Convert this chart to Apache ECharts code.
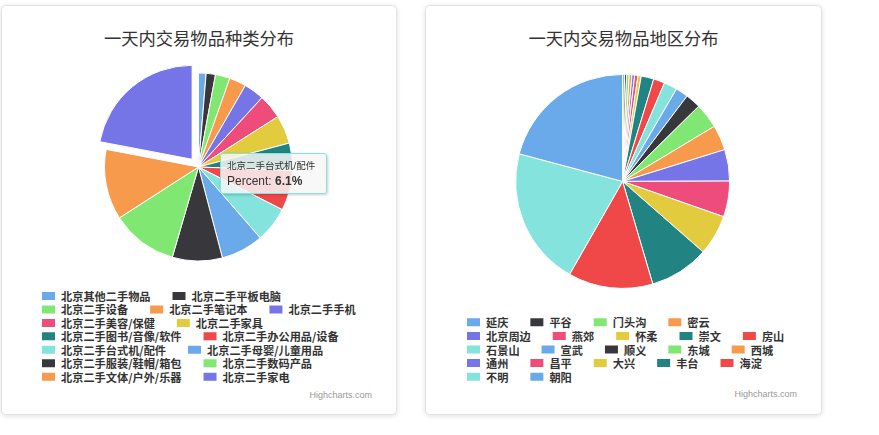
<!DOCTYPE html>
<html>
<head>
<meta charset="utf-8">
<script src="https://cdn.jsdelivr.net/npm/echarts@6/dist/echarts.min.js"></script>
<style>
  html, body { margin: 0; padding: 0; background: #ffffff; }
  #chart { width: 879px; height: 435px; }
</style>
</head>
<body>
<div id="chart"></div>
<script>
// ---- data ----
const categoryTitle = '一天内交易物品种类分布';
const districtTitle = '一天内交易物品地区分布';
const creditText = 'Highcharts.com';

const categoryNames = [
  '北京其他二手物品', '北京二手平板电脑', '北京二手设备', '北京二手笔记本', '北京二手手机',
  '北京二手美容/保健', '北京二手家具', '北京二手图书/音像/软件', '北京二手办公用品/设备',
  '北京二手台式机/配件', '北京二手母婴/儿童用品', '北京二手服装/鞋帽/箱包', '北京二手数码产品',
  '北京二手文体/户外/乐器', '北京二手家电'
];
const categoryPercents = [1.3, 1.6, 2.5, 2.9, 3.5, 4.2, 4.9, 4.7, 6.9, 6.1, 7.3, 8.6, 11.4, 12.1, 22.0];
const categorySliced = '北京二手家电';
const categoryTooltipName = '北京二手台式机/配件';

const districtNames = [
  '延庆', '平谷', '门头沟', '密云', '北京周边', '燕郊', '怀柔', '崇文', '房山', '石景山',
  '宣武', '顺义', '东城', '西城', '通州', '昌平', '大兴', '丰台', '海淀', '不明', '朝阳'
];
const districtPercents = [0.3, 0.3, 0.4, 0.4, 0.4, 0.5, 0.5, 1.9, 1.7, 2.0, 1.9, 2.3, 3.8, 3.8, 4.75, 5.4, 6.1, 9.0, 12.8, 20.9, 20.85];

// legend row grouping (how many items per legend line)
const categoryLegendRows = [2, 3, 2, 2, 2, 2, 2];
const districtLegendRows = [4, 5, 5, 5, 2];

// ---- style ----
const palette = ['#6aa9ea', '#38383c', '#80e872', '#f79a4c', '#7575e8',
                 '#ee4c7a', '#e2cc3e', '#218482', '#f04848', '#84e3dc'];
const cjk = "'Noto Sans CJK SC', sans-serif";
const latin = "'Liberation Sans', 'Noto Sans CJK SC', sans-serif";

function pieData(names, values, slicedName) {
  return names.map((n, i) => ({
    name: n,
    value: values[i],
    selected: n === slicedName,
    itemStyle: { color: palette[i % palette.length] }
  }));
}

function legendRows(names, rows, left, firstCenter, step) {
  const out = [];
  let k = 0;
  rows.forEach((cnt, r) => {
    out.push({
      data: names.slice(k, k + cnt),
      orient: 'horizontal',
      left: left,
      top: firstCenter + r * step - 6,
      padding: 0,
      itemGap: 20,
      itemWidth: 15,
      itemHeight: 10,
      icon: 'rect',
      selectedMode: false,
      textStyle: { fontFamily: cjk, fontSize: 11.2, fontWeight: 'bold', color: '#333333', lineHeight: 12 }
    });
    k += cnt;
  });
  return out;
}

function card(x, y, w, h) {
  return {
    type: 'rect', z: -10, silent: true,
    shape: { x: x, y: y, width: w, height: h, r: 4 },
    style: { fill: '#ffffff', stroke: '#e2e2e2', lineWidth: 1,
             shadowBlur: 5, shadowColor: 'rgba(0,0,0,0.12)', shadowOffsetY: 1 }
  };
}

const chart = echarts.init(document.getElementById('chart'), null, { renderer: 'svg' });

const option = {
  animation: false,
  backgroundColor: '#ffffff',
  graphic: [
    card(1.5, 5.5, 395, 409),
    card(425.5, 5.5, 396, 409),
    { type: 'text', z: 10, silent: true, style: { text: creditText, x: 372, y: 395, align: 'right', verticalAlign: 'middle', fontSize: 9, fontFamily: latin, fill: '#999999' } },
    { type: 'text', z: 10, silent: true, style: { text: creditText, x: 797, y: 394, align: 'right', verticalAlign: 'middle', fontSize: 9, fontFamily: latin, fill: '#999999' } }
  ],
  title: [
    { text: categoryTitle, left: 199, top: 27, textAlign: 'center', padding: 0,
      textStyle: { fontFamily: cjk, fontSize: 17.3, fontWeight: 'normal', color: '#333333', lineHeight: 20 } },
    { text: districtTitle, left: 623.5, top: 27, textAlign: 'center', padding: 0,
      textStyle: { fontFamily: cjk, fontSize: 17.3, fontWeight: 'normal', color: '#333333', lineHeight: 20 } }
  ],
  tooltip: {
    trigger: 'item',
    alwaysShowContent: true,
    showDelay: 0,
    transitionDuration: 0,
    position: [220, 153],
    backgroundColor: 'rgba(247,247,247,0.85)',
    borderColor: '#84e3dc',
    borderWidth: 1,
    padding: [5, 6, 4, 6],
    extraCssText: 'border-radius:3px; box-shadow:1px 1px 3px rgba(0,0,0,0.2); width:93px;',
    formatter: p => '<div style="font-family:' + latin.replace(/'/g, '') + ';font-size:9.5px;color:#333;line-height:14px;white-space:nowrap">' + p.name + '</div>' +
                    '<div style="font-family:' + latin.replace(/'/g, '') + ';font-size:12px;color:#333;line-height:16px;white-space:nowrap">Percent: <b>' + p.percent.toFixed(1) + '%</b></div>'
  },
  legend: [].concat(
    legendRows(categoryNames, categoryLegendRows, 40, 296, 13.45),
    legendRows(districtNames, districtLegendRows, 465, 322.3, 13.6)
  ),
  series: [
    {
      type: 'pie',
      center: [198.5, 167],
      radius: 94,
      startAngle: 90,
      clockwise: true,
      selectedMode: 'single',
      selectedOffset: 10,
      label: { show: false },
      labelLine: { show: false },
      itemStyle: { borderColor: '#ffffff', borderWidth: 1 },
      emphasis: { scale: false },
      select: { itemStyle: { borderColor: '#ffffff', borderWidth: 1 } },
      data: pieData(categoryNames, categoryPercents, categorySliced)
    },
    {
      type: 'pie',
      center: [622.6, 181.4],
      radius: 107,
      startAngle: 90,
      clockwise: true,
      label: { show: false },
      labelLine: { show: false },
      itemStyle: { borderColor: '#ffffff', borderWidth: 1 },
      emphasis: { scale: false },
      data: pieData(districtNames, districtPercents, null)
    }
  ]
};

chart.setOption(option);
chart.dispatchAction({ type: 'showTip', seriesIndex: 0, dataIndex: categoryNames.indexOf(categoryTooltipName) });
</script>
</body>
</html>
